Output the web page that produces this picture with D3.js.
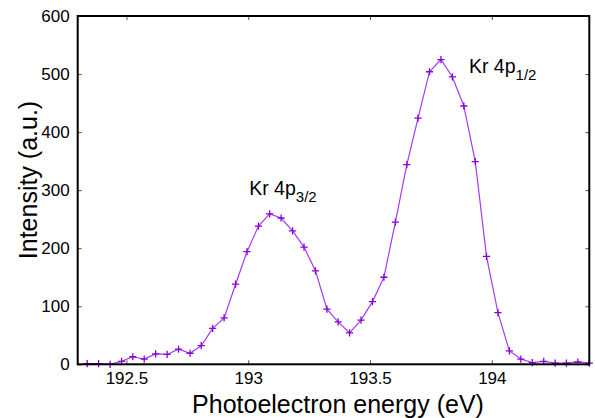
<!DOCTYPE html>
<html>
<head>
<meta charset="utf-8">
<script src="https://cdn.jsdelivr.net/npm/d3@7/dist/d3.min.js"></script>
<style>
  html, body { margin: 0; padding: 0; background: #fff; }
  svg { display: block; font-family: "Liberation Sans", Arial, Helvetica, sans-serif; }
</style>
</head>
<body>
<svg id="chart" width="595" height="418"></svg>
<script>
// Kr 4p photoelectron spectrum
const energy = [
  192.339, 192.386, 192.433, 192.480, 192.526, 192.573, 192.620, 192.667, 192.714, 192.761,
  192.807, 192.854, 192.901, 192.948, 192.995, 193.042, 193.088, 193.135, 193.182, 193.229,
  193.276, 193.323, 193.369, 193.416, 193.463, 193.510, 193.557, 193.604, 193.651, 193.697,
  193.744, 193.791, 193.838, 193.885, 193.932, 193.978, 194.025, 194.072, 194.119, 194.166,
  194.213, 194.260, 194.306, 194.353, 194.400
];
const intensity = [
  1, 1, 0, 5, 13, 9, 18, 17, 26, 19,
  32, 62, 80, 138, 194, 238, 259, 252, 230, 202,
  161, 95, 73, 54, 76, 108, 150, 245, 344, 424,
  504, 525, 495, 445, 349, 186, 89, 23, 9, 3,
  5, 2, 2, 4, 2
];
const xTicks = [192.5, 193, 193.5, 194];
const xTickLabels = ["192.5", "193", "193.5", "194"];
const yTicks = [0, 100, 200, 300, 400, 500, 600];
const peakLabels = [
  { main: "Kr 4p", sub: "3/2", x: 193.004, y: 292 },
  { main: "Kr 4p", sub: "1/2", x: 193.906, y: 502 }
];
const xTitle = "Photoelectron energy (eV)";
const yTitle = "Intensity (a.u.)";

const svg = d3.select("#chart");
const plotLeft = 77.7, plotRight = 589.3, plotTop = 16, plotBottom = 364.3;

const x = d3.scaleLinear().domain([192.3, 194.4]).range([plotLeft, plotRight]);
const y = d3.scaleLinear().domain([0, 600]).range([plotBottom, plotTop]);

const pts = energy.map((e, i) => [e, intensity[i]]);

// inward ticks on all four sides
const tickLen = 4;
const tickColor = "#555";
const bottomAxis = d3.axisBottom(x).tickValues(xTicks).tickSizeInner(-tickLen).tickSizeOuter(0)
  .tickFormat((d, i) => xTickLabels[i]).tickPadding(8);
const topAxis = d3.axisTop(x).tickValues(xTicks).tickSizeInner(-tickLen).tickSizeOuter(0).tickFormat("");
const leftAxis = d3.axisLeft(y).tickValues(yTicks).tickSizeInner(-tickLen).tickSizeOuter(0)
  .tickFormat(d3.format("d")).tickPadding(8);
const rightAxis = d3.axisRight(y).tickValues(yTicks).tickSizeInner(-tickLen).tickSizeOuter(0).tickFormat("");

function styleAxis(g) {
  g.select(".domain").remove();
  g.selectAll(".tick line").attr("stroke", tickColor).attr("stroke-width", 1);
  g.selectAll(".tick text").attr("fill", "#000").style("font-size", "17px")
    .style("font-family", "'Liberation Sans', Arial, sans-serif");
}

svg.append("g").attr("transform", `translate(0,${plotBottom})`).call(bottomAxis).call(styleAxis);
svg.append("g").attr("transform", `translate(0,${plotTop})`).call(topAxis).call(styleAxis);
svg.append("g").attr("transform", `translate(${plotLeft},0)`).call(leftAxis).call(styleAxis);
svg.append("g").attr("transform", `translate(${plotRight},0)`).call(rightAxis).call(styleAxis);

// data line
const line = d3.line().x(d => x(d[0])).y(d => y(d[1]));
svg.append("path")
  .datum(pts)
  .attr("fill", "none")
  .attr("stroke", "#a43cf0")
  .attr("stroke-width", 1.2)
  .attr("d", line);

// "+" markers
const m = 3.6;
const markers = svg.append("g").attr("stroke", "#8a00d4").attr("stroke-width", 1.3);
markers.selectAll("path.mk")
  .data(pts)
  .join("path")
  .attr("class", "mk")
  .attr("d", d => {
    const cx = x(d[0]), cy = y(d[1]);
    return `M${cx - m},${cy}H${cx + m}M${cx},${cy - m}V${cy + m}`;
  });

// frame
svg.append("rect")
  .attr("x", plotLeft).attr("y", plotTop)
  .attr("width", plotRight - plotLeft).attr("height", plotBottom - plotTop)
  .attr("fill", "none").attr("stroke", "#000").attr("stroke-width", 2);

// axis titles
svg.append("text")
  .attr("x", 338).attr("y", 413)
  .attr("text-anchor", "middle")
  .style("font-size", "25px")
  .text(xTitle);

svg.append("text")
  .attr("transform", `translate(36.5,${180}) rotate(-90)`)
  .attr("text-anchor", "middle")
  .style("font-size", "25px")
  .text(yTitle);

// peak annotations
peakLabels.forEach(p => {
  const t = svg.append("text")
    .attr("x", x(p.x)).attr("y", y(p.y))
    .style("font-size", "19.5px");
  t.append("tspan").text(p.main);
  t.append("tspan").attr("dy", 7.5).style("font-size", "15px").text(p.sub);
});
</script>
</body>
</html>
